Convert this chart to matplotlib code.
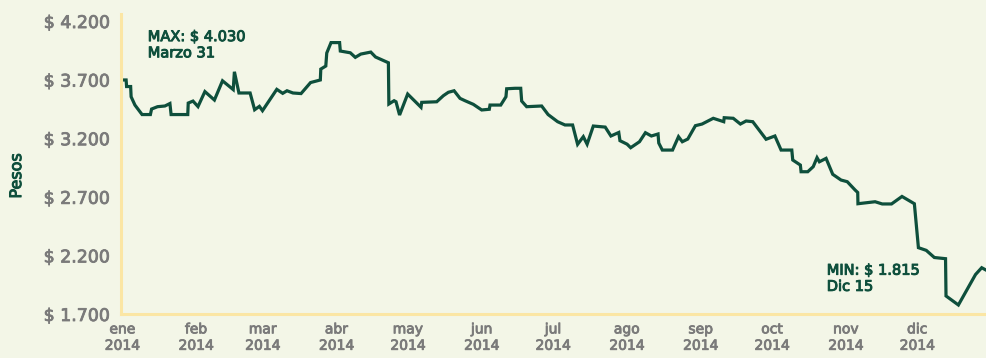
import matplotlib
matplotlib.use("Agg")
import matplotlib.pyplot as plt
import matplotlib.patheffects as pe

# Day offsets from 1 Jan 2014 and the exchange value (pesos)
days = [0, 1.6, 1.8, 3.5, 3.7, 5.3, 8.3, 11.8, 12.3, 14.8, 17.9, 20.0, 20.5, 27.5, 27.7,
        29.7, 31.8, 34.7, 38.7, 42.1, 46.6, 47.1, 49.0, 53.7, 55.6, 57.6, 58.9, 64.9, 67.4,
        69.2, 71.7, 75.1, 79.1, 83.2, 83.4, 85.5, 85.9, 87.7, 91.3, 91.6, 95.8, 97.9, 100.2,
        104.4, 106.4, 111.8, 112.0, 114.2, 115.0, 116.5, 119.9, 125.5, 125.8, 132.1, 134.9,
        137.0, 139.4, 141.9, 144.0, 147.5, 151.0, 154.2, 154.5, 159.0, 161.2, 161.5, 165.0,
        167.4, 167.8, 169.9, 176.2, 178.9, 182.9, 186.0, 189.2, 191.3, 193.7, 195.3, 197.9,
        202.9, 205.3, 208.6, 209.1, 212.1, 213.6, 217.3, 219.8, 222.3, 225.1, 225.4, 226.9,
        231.2, 233.7, 235.3, 237.6, 240.8, 243.6, 248.3, 252.7, 252.9, 256.7, 259.7, 262.1,
        264.9, 270.5, 274.2, 276.8, 281.3, 281.7, 284.9, 285.2, 288.0, 290.3, 291.9, 292.9,
        295.7, 298.5, 302.0, 304.6, 307.9, 309.0, 309.1, 313.3, 316.3, 319.3, 323.2, 327.6,
        332.8, 334.5, 337.8, 341.2, 345.9, 346.1, 351.3, 358.5, 361.1, 362.9]
values = [3697, 3697, 3641, 3641, 3554, 3483, 3402, 3402, 3449, 3469, 3475, 3496, 3402, 3402, 3500,
          3517, 3470, 3598, 3526, 3690, 3615, 3767, 3586, 3586, 3443, 3472, 3435, 3617, 3583,
          3605, 3586, 3581, 3675, 3697, 3790, 3816, 3927, 4016, 4016, 3944, 3929, 3890, 3918,
          3935, 3893, 3844, 3492, 3520, 3511, 3398, 3577, 3464, 3506, 3511, 3563,
          3592, 3605, 3540, 3520, 3489, 3441, 3447, 3483, 3483, 3554, 3622, 3626,
          3626, 3517, 3469, 3475, 3402, 3341, 3313, 3313, 3148, 3213, 3149, 3304,
          3295, 3219, 3249, 3179, 3149, 3119, 3170, 3247, 3219, 3236, 3159, 3099,
          3099, 3213, 3170, 3193, 3307, 3321, 3370, 3341, 3375, 3370, 3321, 3347,
          3341, 3191, 3219, 3099, 3099, 3014, 2971, 2914, 2914, 2957, 3034, 2999,
          3028, 2892, 2843, 2829, 2758, 2737, 2641, 2651, 2658, 2639, 2639, 2703,
          2641, 2266, 2243, 2182, 2172, 1854, 1777, 2037, 2095, 2075]

month_days = [0, 31, 59, 90, 120, 151, 181, 212, 243, 273, 304, 334]
month_labels = ["ene", "feb", "mar", "abr", "may", "jun", "jul", "ago", "sep", "oct", "nov", "dic"]
year_label = "2014"
y_ticks = [1700, 2200, 2700, 3200, 3700, 4200]
y_tick_labels = ["$ 1.700", "$ 2.200", "$ 2.700", "$ 3.200", "$ 3.700", "$ 4.200"]

BG = "#f3f6e7"
LINE = "#0e4f3c"
SPINE = "#fbe6a4"
GRAY = "#7a7a7a"
FONT = ["DejaVu Sans"]

plt.rcParams["font.family"] = FONT


def thick(color, w):
    return [pe.withStroke(linewidth=w, foreground=color)]


fig = plt.figure(figsize=(9.86, 3.58), dpi=100, facecolor=BG)
ax = fig.add_axes([121 / 986, 44 / 358, 1 - 121 / 986, 300 / 358])
ax.set_facecolor(BG)

ax.plot(days, values, color=LINE, lw=2.3, solid_joinstyle="miter", clip_on=True)

ax.set_xlim(-0.55, 362.9)
ax.set_ylim(1700, 4260)

ax.set_yticks(y_ticks)
ax.set_yticklabels(y_tick_labels, color=GRAY, fontsize=12.5)
ax.set_xticks(month_days)
ax.set_xticklabels([f"{m}\n{year_label}" for m in month_labels], color=GRAY,
                   fontsize=10, linespacing=1.22)
for lab in ax.get_yticklabels() + ax.get_xticklabels():
    lab.set_path_effects(thick(GRAY, 0.6))
ax.tick_params(axis="both", length=0)
ax.tick_params(axis="y", pad=8)
ax.tick_params(axis="x", pad=6)

for s in ["top", "right"]:
    ax.spines[s].set_visible(False)
for s in ["left", "bottom"]:
    ax.spines[s].set_color(SPINE)
    ax.spines[s].set_linewidth(2.2)

ax.set_ylabel("Pesos", color=LINE, fontsize=11.5, path_effects=thick(LINE, 0.7))
ax.yaxis.set_label_coords(-0.112, 0.46)

ax.text(10.7, 3998, "MAX: $ 4.030\nMarzo 31", color=LINE, fontsize=10.5,
        va="center", ha="left", linespacing=1.1, path_effects=thick(LINE, 0.7))
ax.text(296, 2005, "MIN: $ 1.815\nDic 15", color=LINE, fontsize=10.5,
        va="center", ha="left", linespacing=1.1, path_effects=thick(LINE, 0.7))

fig.savefig("out.png", dpi=100, facecolor=BG)
